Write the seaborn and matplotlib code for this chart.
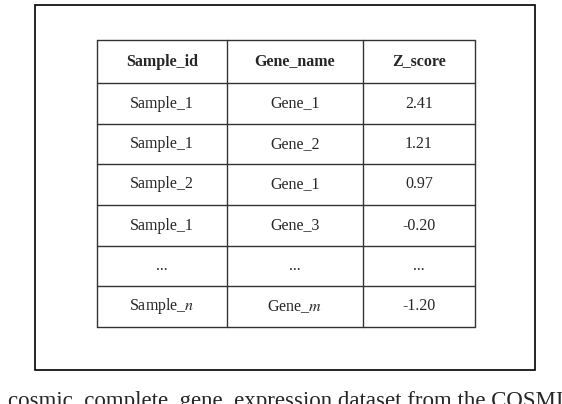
import matplotlib
matplotlib.use("Agg")
import matplotlib.pyplot as plt
import seaborn as sns

sns.set_style("white")
plt.rcParams['font.family'] = ['Liberation Serif', 'DejaVu Serif']

headers = ['Sample_id', 'Gene_name', 'Z_score']
sample_ids = ['Sample_1', 'Sample_1', 'Sample_2', 'Sample_1', '...', r'Sample_$n$']
gene_names = ['Gene_1', 'Gene_2', 'Gene_1', 'Gene_3', '...', r'Gene_$m$']
z_scores = ['2.41', '1.21', '0.97', '-0.20', '...', '-1.20']
caption = 'cosmic_complete_gene_expression dataset from the COSMIC'

W, H = 562, 404
fig = plt.figure(figsize=(W / 100, H / 100), dpi=100)
ax = fig.add_axes([0, 0, 1, 1])
ax.set_xlim(0, W)
ax.set_ylim(H, 0)
ax.axis('off')

# outer box
ax.add_patch(plt.Rectangle((35, 5), 500, 365, fill=False, lw=1.2, color='black'))

col_edges = [97, 227, 363, 475]
row_edges = [40, 83, 124, 164, 205, 246, 286, 327]
for x in col_edges:
    ax.plot([x, x], [row_edges[0], row_edges[-1]], color='#333333', lw=1)
for y in row_edges:
    ax.plot([col_edges[0], col_edges[-1]], [y, y], color='#333333', lw=1)

rows = [headers] + [list(r) for r in zip(sample_ids, gene_names, z_scores)]
for i, row in enumerate(rows):
    yc = (row_edges[i] + row_edges[i + 1]) / 2
    for j, txt in enumerate(row):
        xc = (col_edges[j] + col_edges[j + 1]) / 2
        ax.text(xc, yc, txt, ha='center', va='center', fontsize=11.5,
                fontweight='bold' if i == 0 else 'normal',
                math_fontfamily='stix')

# caption below the box (cut at the picture edge, as in the source)
ax.text(8, 401, caption, ha='left', va='center', fontsize=16.5)

fig.savefig('out.png', dpi=100)
